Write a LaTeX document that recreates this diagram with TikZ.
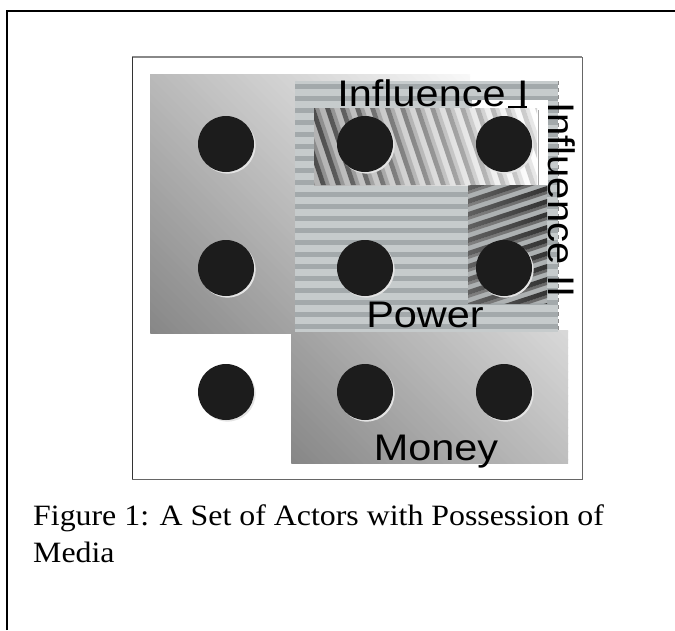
\documentclass[tikz,border=0pt]{standalone}
\usepackage{fontspec}
\setmainfont{Liberation Serif}
\newfontfamily\labfont{Liberation Sans}
\usetikzlibrary{shadows}
\definecolor{dotc}{HTML}{1C1C1C}
\definecolor{shadowc}{HTML}{E4E4E4}
\definecolor{powlight}{HTML}{C6CBCC}
\definecolor{powdark}{HTML}{A3A9AB}
\definecolor{infIIlight}{HTML}{ADB1B2}
\definecolor{frameg}{HTML}{888888}
\begin{document}
\begin{tikzpicture}[x=1pt,y=-1pt,
  dot/.style={circle, fill=dotc, minimum size=56pt, inner sep=0pt, draw=none,
    drop shadow={shadow xshift=1.6pt, shadow yshift=-1.6pt, fill=shadowc, opacity=1}},
  lab/.style={font=\labfont\fontsize{37}{40}\selectfont, inner sep=0pt, anchor=base},
  captext/.style={font=\fontsize{29.5}{33}\selectfont, inner sep=0pt, anchor=base west}]
\useasboundingbox (0,0) rectangle (675,630);
% outer page frame
\draw[line width=2pt] (7,630) -- (7,11) -- (675,11);
% inner figure frame
\draw[frameg, line width=1.5pt] (132,57) -- (582,57);
\draw[black!80, line width=1pt] (132,57) -- (132,479);
\draw[black!60, line width=1pt] (132,479) -- (582,479) -- (582,57);
% big gradient square (dark bottom-left -> white top-right), drawn as diagonal bands
\begin{scope}
  \clip (150,74) rectangle (470,333);
  \fill[white] (150,74) rectangle (470,333);
  \foreach \i in {0,...,75} {
    \pgfmathsetmacro\pc{47*(1-\i/76)}
    \fill[black!\pc] (150+\i*8-400,333-400) -- (150+\i*8+9-400,333-400)
       -- (150+\i*8+9+400,333+400) -- (150+\i*8+400,333+400) -- cycle;
  }
\end{scope}
% Money
\begin{scope}
  \clip (291,330) rectangle (568,463);
  \fill[black!14] (291,330) rectangle (568,463);
  \foreach \i in {0,...,51} {
    \pgfmathsetmacro\pc{47-33*\i/52}
    \fill[black!\pc] (291+\i*8-300,463-300) -- (291+\i*8+9-300,463-300)
       -- (291+\i*8+9+300,463+300) -- (291+\i*8+300,463+300) -- cycle;
  }
\end{scope}
% Power (horizontal stripes)
\begin{scope}
  \clip (295,81) rectangle (558,332);
  \fill[powlight] (295,81) rectangle (558,332);
  \foreach \yy in {84,96,...,336} \fill[powdark] (295,\yy) rectangle (558,\yy+5);
\end{scope}
\draw[black!45, dash pattern=on 4pt off 3pt] (558,81) -- (558,332);
% white frame band of Influence I
\fill[white] (472,100) rectangle (548,108);
\fill[white] (537,100) rectangle (548,185);
\draw[black!35, line width=0.6pt] (538.5,110) -- (538.5,185);
% Influence I (diagonal stripes)
\begin{scope}
  \clip (314,108) rectangle (537,185);
  \shade[left color=black!30, right color=white] (314,108) rectangle (537,185);
  \shade[left color=black!50, right color=black!3]
    \foreach \xx in {280,295,...,545} {(\xx+5,108) -- ++(4,0) -- ++(26,77) -- ++(-4,0) -- cycle};
  \shade[left color=black!78, right color=black!10]
    \foreach \xx in {280,295,...,545} {(\xx,108) -- ++(5,0) -- ++(26,77) -- ++(-5,0) -- cycle};
\end{scope}
% Influence II (diagonal stripes)
\begin{scope}
  \clip (468,185) rectangle (547,303);
  \fill[infIIlight] (468,185) rectangle (547,303);
  \shade[left color=black!50, right color=black!60]
    \foreach \yy in {191,204,...,340} {(468,\yy) -- ++(79,-26) -- ++(0,3) -- ++(-79,26) -- cycle};
  \shade[left color=black!62, right color=black!80]
    \foreach \yy in {186,199,...,335} {(468,\yy) -- ++(79,-26) -- ++(0,5) -- ++(-79,26) -- cycle};
\end{scope}
% actors
\node[dot] (a11) at (226,144) {};
\node[dot] (a12) at (365,144) {};
\node[dot] (a13) at (504,144) {};
\node[dot] (a21) at (226,268) {};
\node[dot] (a22) at (365,268) {};
\node[dot] (a23) at (504,268) {};
\node[dot] (a31) at (226,392) {};
\node[dot] (a32) at (365,392) {};
\node[dot] (a33) at (504,392) {};
% labels
\node[lab] (infI) at (433,106) {\scalebox{1.12}[1]{Influence I}};
\draw[black, line width=1.5pt] (508,107) -- (527,107);
\node[lab] (power) at (425,327) {\scalebox{1.12}[1]{Power}};
\node[lab] (money) at (436,460) {\scalebox{1.12}[1]{Money}};
\node[lab, rotate=-90] (infII) at (548,200) {\scalebox{1.08}[1]{Influence II}};
% caption
\node[captext] (cap1) at (33,525) {\scalebox{1.08}[1]{Figure 1: A Set of Actors with Possession of}};
\node[captext] (cap2) at (33,562) {\scalebox{1.08}[1]{Media}};
\end{tikzpicture}
\end{document}
